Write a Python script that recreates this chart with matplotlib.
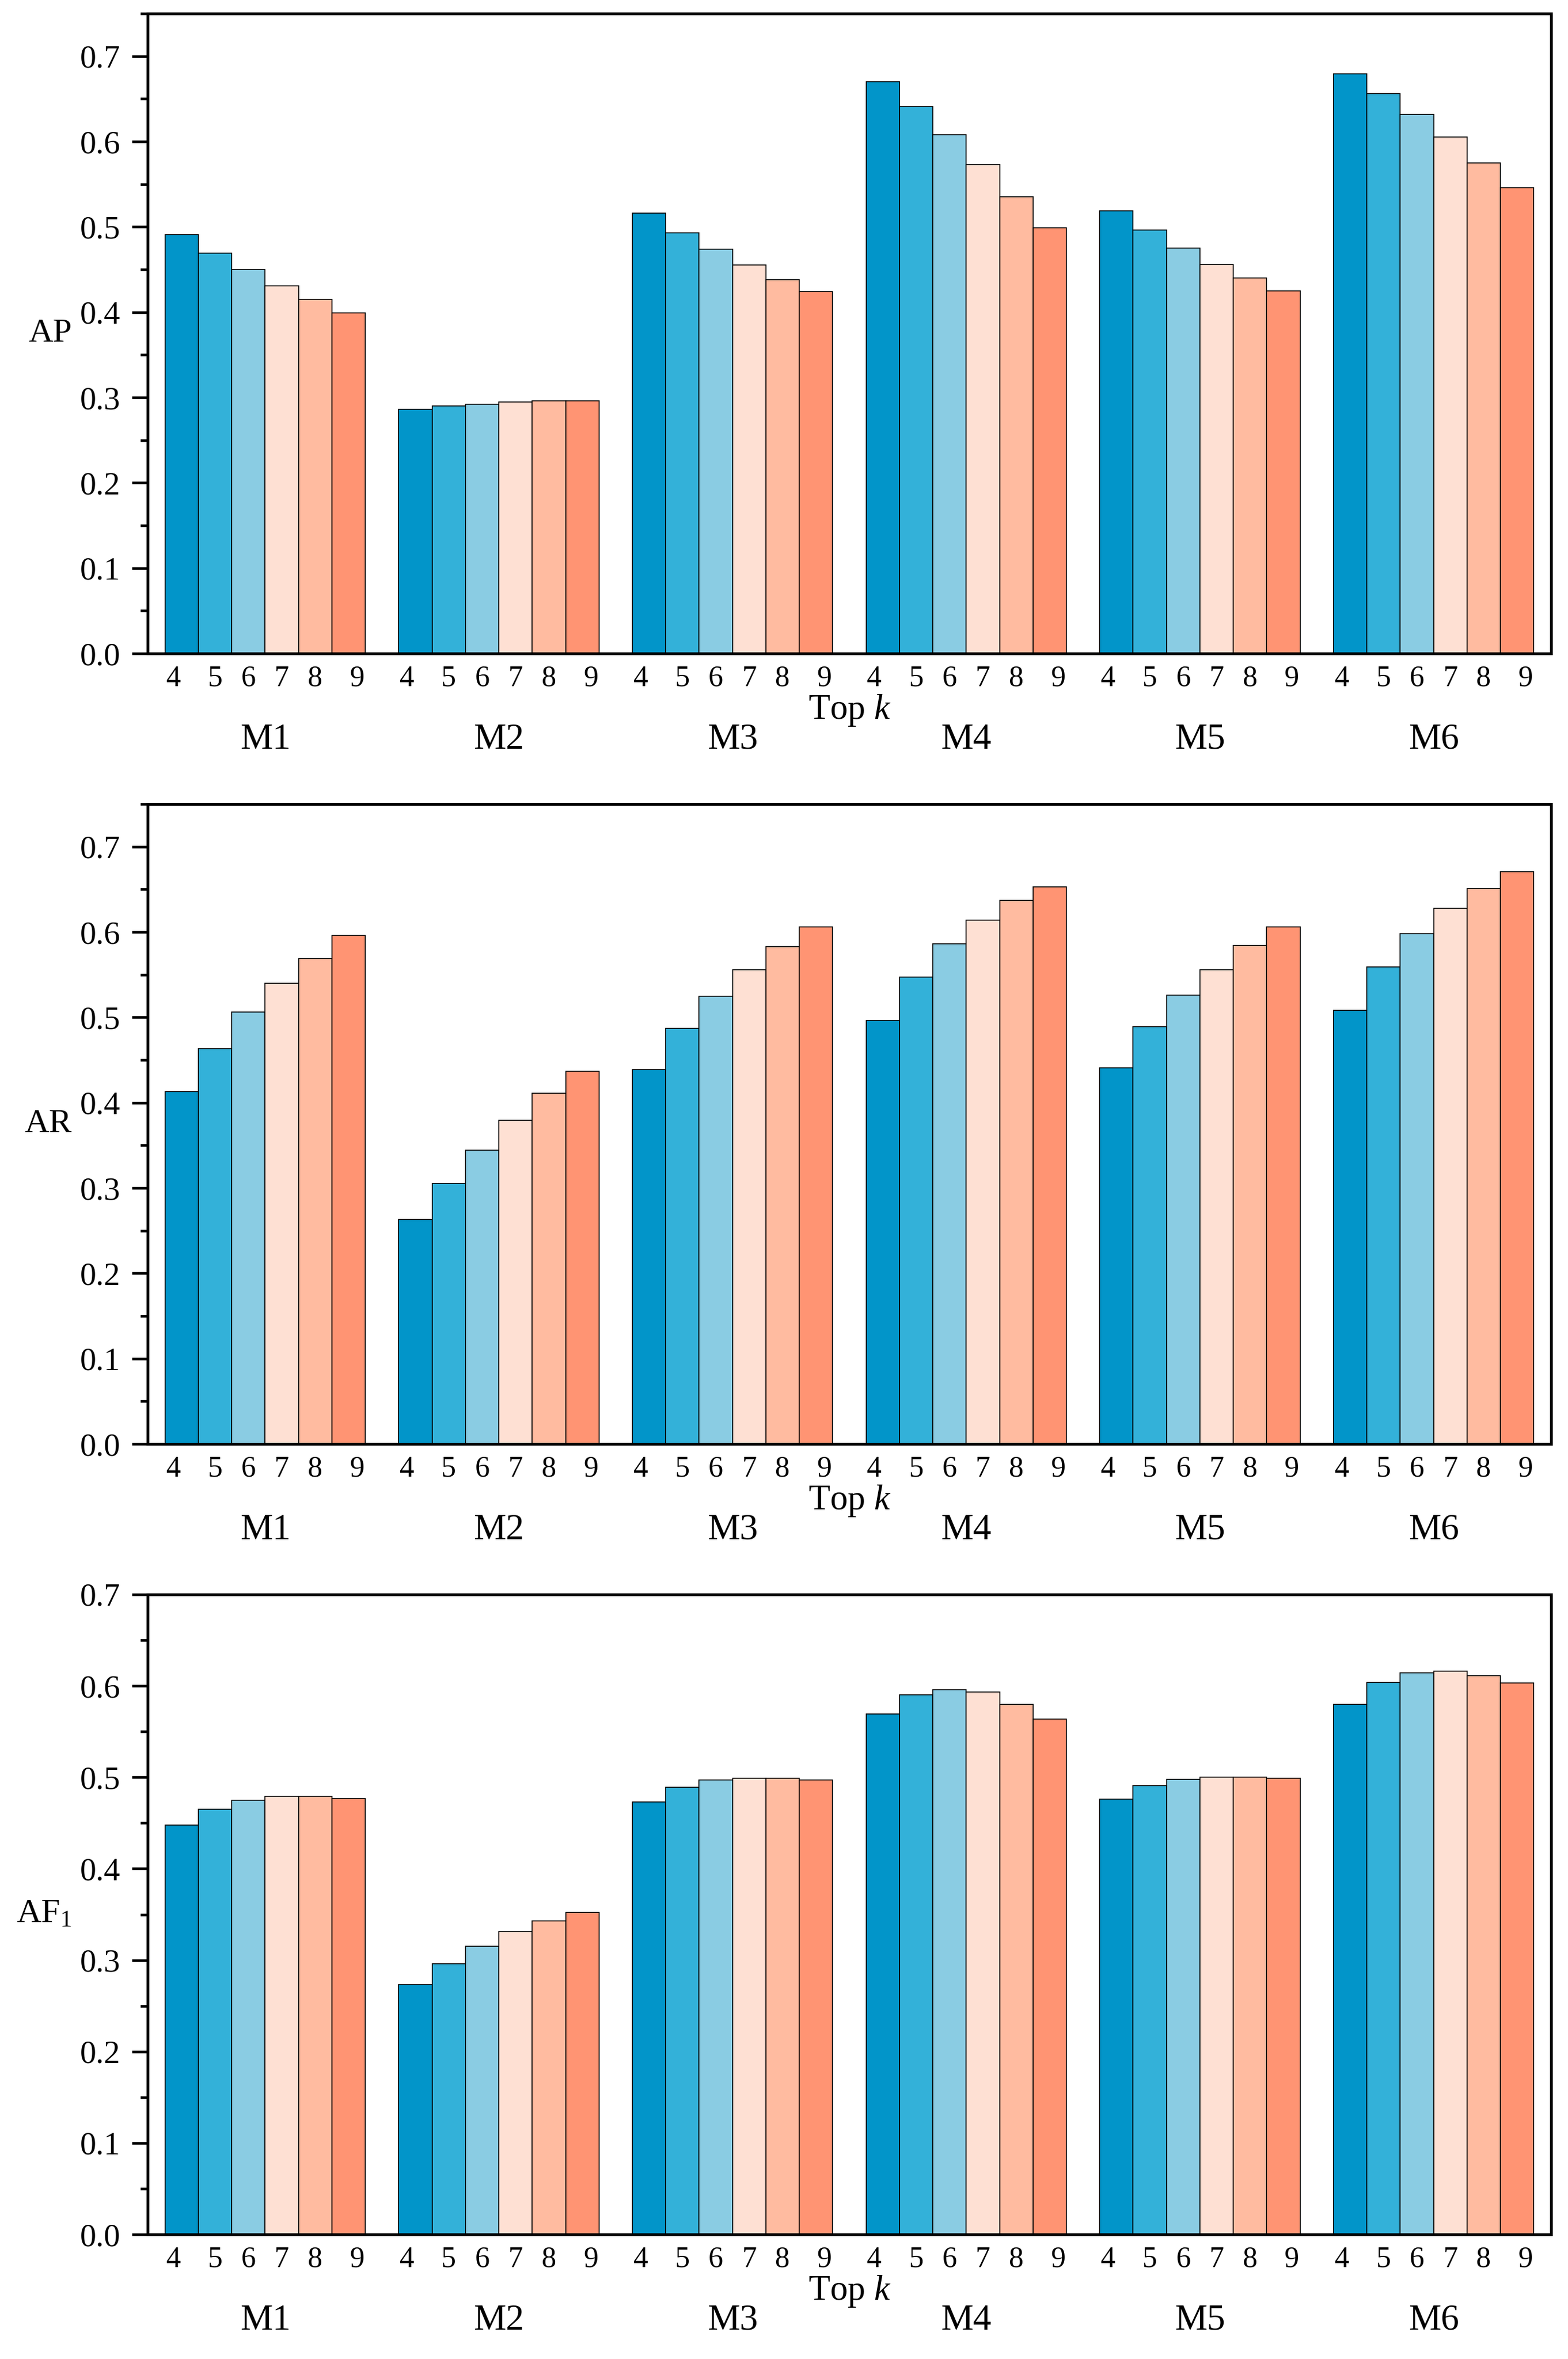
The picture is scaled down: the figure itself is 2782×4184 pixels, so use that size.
import matplotlib
matplotlib.use("Agg")
import matplotlib.pyplot as plt
import numpy as np
from matplotlib.ticker import MultipleLocator, FormatStrFormatter

plt.rcParams['font.family'] = ['Liberation Serif', 'DejaVu Serif']
plt.rcParams['mathtext.fontset'] = 'custom'
plt.rcParams['mathtext.rm'] = 'Liberation Serif'
plt.rcParams['mathtext.it'] = 'Liberation Serif:italic'

methods = ['M1', 'M2', 'M3', 'M4', 'M5', 'M6']
topk = ['4', '5', '6', '7', '8', '9']
colors = ['#0295C9', '#33B1D9', '#8ACCE3', '#FEE0D3', '#FFBBA0', '#FF9473']

# one row per method, one column per k
ap = [
    [0.491, 0.469, 0.450, 0.431, 0.415, 0.399],
    [0.286, 0.290, 0.292, 0.295, 0.296, 0.296],
    [0.516, 0.493, 0.474, 0.455, 0.438, 0.424],
    [0.670, 0.641, 0.608, 0.573, 0.535, 0.499],
    [0.519, 0.496, 0.475, 0.456, 0.440, 0.425],
    [0.679, 0.656, 0.632, 0.605, 0.575, 0.546],
]
ar = [
    [0.413, 0.463, 0.506, 0.540, 0.569, 0.596],
    [0.263, 0.305, 0.344, 0.379, 0.411, 0.437],
    [0.439, 0.487, 0.525, 0.556, 0.583, 0.606],
    [0.496, 0.547, 0.586, 0.614, 0.637, 0.653],
    [0.441, 0.489, 0.526, 0.556, 0.584, 0.606],
    [0.508, 0.559, 0.598, 0.628, 0.651, 0.671],
]
af1 = [
    [0.448, 0.465, 0.475, 0.479, 0.479, 0.477],
    [0.273, 0.296, 0.315, 0.331, 0.343, 0.352],
    [0.473, 0.489, 0.497, 0.499, 0.499, 0.497],
    [0.569, 0.590, 0.596, 0.593, 0.580, 0.564],
    [0.476, 0.491, 0.498, 0.500, 0.500, 0.499],
    [0.580, 0.604, 0.614, 0.616, 0.611, 0.603],
]

panels = [(ap, 'AP', 0.75), (ar, 'AR', 0.75), (af1, r'AF$_1$', 0.7)]

W, H = 2782, 4184
fig = plt.figure(figsize=(W / 300, H / 300), dpi=300)

left, right = 262, 2752
tops = [24, 1426, 2828]
height = 1135

n_k = len(topk)
step = n_k + 1
# outer k labels sit a little outside the bar centre in the original
label_shift = [-0.25, 0, 0, 0, 0, 0.25]

for (data, label, ymax), top in zip(panels, tops):
    ax = fig.add_axes([left / W, 1 - (top + height) / H, (right - left) / W, height / H])
    vals = np.array(data)
    for j in range(n_k):
        xs = np.arange(len(methods)) * step + j
        ax.bar(xs, vals[:, j], width=1.0, color=colors[j], edgecolor='black', linewidth=0.4)

    ticks = [i * step + j + label_shift[j] for i in range(len(methods)) for j in range(n_k)]
    ax.set_xticks(ticks)
    ax.set_xticklabels(topk * len(methods), fontsize=12.5)
    ax.set_xlim(-1.02, len(methods) * step - 1 + 0.02)
    ax.set_ylim(0, ymax)
    ax.yaxis.set_major_locator(MultipleLocator(0.1))
    ax.yaxis.set_minor_locator(MultipleLocator(0.05))
    ax.yaxis.set_major_formatter(FormatStrFormatter('%.1f'))
    ax.tick_params(axis='x', length=0, pad=5)
    ax.tick_params(axis='y', which='major', direction='out', length=6.7, width=1.1,
                   pad=5, labelsize=13.8)
    ax.tick_params(axis='y', which='minor', direction='out', length=3.2, width=1.1)
    for s in ax.spines.values():
        s.set_linewidth(1.2)

    ax.set_ylabel(label, rotation=0, fontsize=14.5, ha='right', va='center')
    ax.yaxis.set_label_coords(-0.054, 0.5)

    ax.annotate('Top $k$', xy=(0.5, 0), xycoords='axes fraction',
                xytext=(0, -24.2), textcoords='offset points',
                ha='center', va='center', fontsize=15)
    for i, m in enumerate(methods):
        ax.annotate(m, xy=(i * step + (n_k - 1) / 2, 0),
                    xycoords=('data', 'axes fraction'),
                    xytext=(0, -36.7), textcoords='offset points',
                    ha='center', va='center', fontsize=15.5)

fig.savefig('out.png', dpi=300)
